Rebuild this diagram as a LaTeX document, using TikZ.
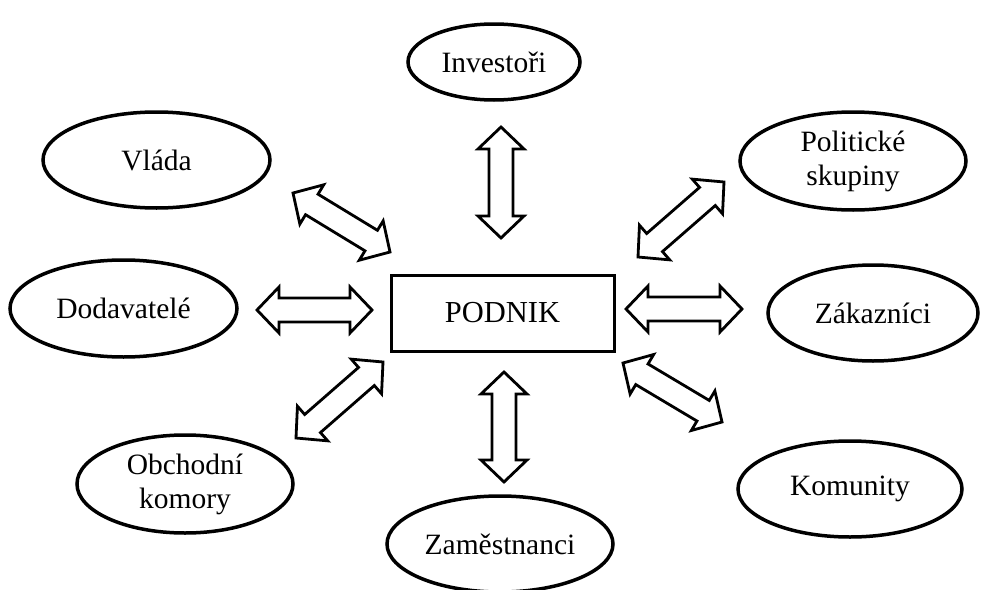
\documentclass[tikz,border=0pt]{standalone}
\usepackage{fontspec}
\setmainfont{Liberation Serif}
\usetikzlibrary{shapes.geometric,calc}
\tikzset{
  party/.style={draw, ellipse, line width=3.5pt, inner sep=0pt, align=center,
    font=\fontsize{29.5}{34}\selectfont},
  firm/.style={draw, rectangle, line width=3pt, inner sep=0pt,
    minimum width=223pt, minimum height=76pt, font=\fontsize{30.5}{34}\selectfont},
  link/.style={draw, line width=2.8pt, fill=white, line join=miter},
}
% hollow double-headed block arrow between two named points
\newcommand{\twoway}[2]{%
  \path[link] (#1)
    -- ($(#1)!22pt!(#2)!23pt!90:(#2)$)
    -- ($(#1)!22pt!(#2)!12pt!90:(#2)$)
    -- ($(#2)!22pt!(#1)!12pt!-90:(#1)$)
    -- ($(#2)!22pt!(#1)!23pt!-90:(#1)$)
    -- (#2)
    -- ($(#2)!22pt!(#1)!23pt!90:(#1)$)
    -- ($(#2)!22pt!(#1)!12pt!90:(#1)$)
    -- ($(#1)!22pt!(#2)!12pt!-90:(#2)$)
    -- ($(#1)!22pt!(#2)!23pt!-90:(#2)$)
    -- cycle;}
\begin{document}
\begin{tikzpicture}[x=1pt, y=-1pt]
  \useasboundingbox (0,0) rectangle (985,589);

  % centre
  \node[firm] (podnik) at (502.5,313) {PODNIK};

  % stakeholders
  \node[party, minimum width=172pt, minimum height=76pt] (inv)   at (494,62)    {Investoři};
  \node[party, minimum width=227pt, minimum height=96pt] (vlada) at (156.5,160) {Vláda};
  \node[party, minimum width=226pt, minimum height=98pt] (polit) at (853,161)   {Politické\\skupiny};
  \node[party, minimum width=227pt, minimum height=97pt] (dod)   at (123.5,308.5) {Dodavatelé};
  \node[party, minimum width=210pt, minimum height=96pt] (zak)   at (873,313)   {Zákazníci};
  \node[party, minimum width=216pt, minimum height=98pt] (obch)  at (185,484)   {Obchodní\\komory};
  \node[party, minimum width=224pt, minimum height=96pt] (kom)   at (850,489)   {Komunity};
  \node[party, minimum width=226pt, minimum height=96pt] (zam)   at (500,544)   {Zaměstnanci};

  % arrow end points
  \coordinate (inv-a)   at (501,127);  \coordinate (inv-b)   at (501,238);
  \coordinate (zam-a)   at (504,372);  \coordinate (zam-b)   at (504,482);
  \coordinate (dod-a)   at (257,310);  \coordinate (dod-b)   at (372,310);
  \coordinate (zak-a)   at (626,309);  \coordinate (zak-b)   at (742,309);
  \coordinate (vlada-a) at (293,193);  \coordinate (vlada-b) at (390,252);
  \coordinate (polit-a) at (638,257);  \coordinate (polit-b) at (724,182);
  \coordinate (obch-a)  at (296,438);  \coordinate (obch-b)  at (383,362);
  \coordinate (kom-a)   at (623,363);  \coordinate (kom-b)   at (722,422);

  % two-way relations
  \twoway{inv-a}{inv-b}
  \twoway{zam-a}{zam-b}
  \twoway{dod-a}{dod-b}
  \twoway{zak-a}{zak-b}
  \twoway{vlada-a}{vlada-b}
  \twoway{polit-a}{polit-b}
  \twoway{obch-a}{obch-b}
  \twoway{kom-a}{kom-b}
\end{tikzpicture}
\end{document}
